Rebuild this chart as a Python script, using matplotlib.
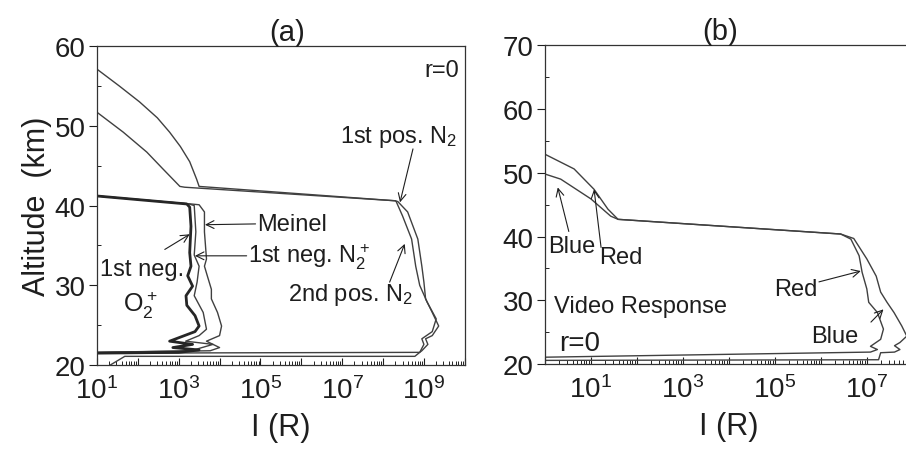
import numpy as np
import matplotlib
matplotlib.use('Agg')
import matplotlib.pyplot as plt

plt.rcParams['font.family'] = ['Liberation Sans', 'DejaVu Sans']
plt.rcParams['mathtext.fontset'] = 'custom'
plt.rcParams['mathtext.rm'] = 'Liberation Sans'
plt.rcParams['mathtext.default'] = 'regular'

# ---- panel (a): emission intensities (R) vs altitude (km), r=0 ----
pos1Alt = [57.1, 55.0, 53.0, 51.0, 49.2, 47.4, 45.5, 43.3, 42.4, 40.6, 40.5, 39.2, 35.8, 32.4, 30.4, 28.3, 26.6, 24.9, 23.7, 23.3, 22.6, 21.8, 21.6, 21.5]
pos1I = [10, 35, 110, 300, 600, 1100, 1860, 2750, 3160, 2.0e8, 2.3e8, 4.0e8, 7.1e8, 8.9e8, 1.0e9, 1.1e9, 1.6e9, 2.3e9, 1.6e9, 1.1e9, 1.25e9, 8.9e8, 7.9e8, 10]

pos2Alt = [51.7, 49.2, 46.7, 44.6, 42.4, 42.3, 40.6, 40.5, 38.7, 35.8, 32.4, 30.0, 27.9, 25.8, 24.2, 23.3, 22.6, 21.6, 21.1, 21.1, 20.0]
pos2I = [10, 44, 166, 410, 1070, 1400, 2.0e8, 2.1e8, 3.0e8, 5.0e8, 6.3e8, 7.9e8, 1.2e9, 2.0e9, 1.6e9, 8.9e8, 1.0e9, 7.9e8, 6.0e8, 48, 21]

o2Alt = [41.2, 40.2, 39.8, 37.4, 34.1, 32.4, 31.2, 29.9, 28.7, 27.5, 26.2, 24.9, 24.2, 23.0, 22.6, 22.2, 21.9, 21.6, 21.5]
o2I = [10, 1580, 1860, 2000, 1860, 2000, 1660, 2190, 1510, 1580, 2510, 3160, 2510, 600, 2190, 720, 3160, 1000, 10]

n2pAlt = [41.2, 40.2, 40.0, 36.7, 33.8, 32.4, 30.4, 28.7, 26.6, 24.5, 23.7, 23.0, 22.6, 21.8, 21.6]
n2pI = [10, 1780, 2400, 2630, 2400, 3160, 2820, 2400, 3980, 4790, 3160, 1480, 6920, 2000, 10]

meinelAlt = [41.2, 40.2, 40.1, 39.2, 36.7, 33.3, 32.4, 31.2, 29.5, 28.3, 26.6, 24.9, 23.7, 23.0, 22.2, 21.8, 21.6]
meinelI = [10, 2000, 3160, 4270, 4270, 4790, 4270, 5010, 6310, 6310, 8910, 11200, 10000, 4790, 10000, 5890, 10]

# ---- panel (b): video response, r=0 ----
redAlt = [52.9, 50.6, 47.4, 44.3, 42.7, 40.4, 39.6, 37.0, 34.4, 31.8, 29.7, 28.1, 25.5, 23.9, 22.8, 22.3, 21.9, 21.1]
redI = [1.0, 4.3, 11.7, 23.4, 38.9, 2.7e6, 4.5e6, 6.8e6, 7.9e6, 1.0e7, 1.1e7, 1.7e7, 2.3e7, 2.0e7, 1.2e7, 1.7e7, 1.2e7, 1.0]

blueAlt = [49.8, 49.0, 45.9, 43.2, 42.7, 40.4, 39.7, 36.5, 33.8, 31.3, 29.7, 28.1, 26.0, 24.4, 23.4, 22.9, 22.3, 21.9, 21.8, 20.7, 20.6]
blueI = [1.0, 2.2, 10.0, 26.9, 38.9, 2.7e6, 5.2e6, 1.0e7, 1.6e7, 2.0e7, 2.75e7, 3.9e7, 5.75e7, 7.4e7, 5.25e7, 4.0e7, 5.25e7, 4.0e7, 2.0e7, 1.8e7, 1.0]

ticksA = [10.0**k for k in range(1, 11)]
tickLabelsA = ['10$^{1}$', '', '10$^{3}$', '', '10$^{5}$', '', '10$^{7}$', '', '10$^{9}$', '']
ticksB = [10.0**k for k in range(0, 9)]
tickLabelsB = ['', '10$^{1}$', '', '10$^{3}$', '', '10$^{5}$', '', '10$^{7}$', '']

lineCol = '#404040'
textCol = '#1e1e1e'
annSize = 17


def styleAxes(ax, xlim, ylim, ticks, tickLabels, yticks):
    ax.set_xscale('log')
    ax.set_xlim(*xlim)
    ax.set_ylim(*ylim)
    ax.set_xticks(ticks)
    ax.set_xticklabels(tickLabels)
    ax.set_yticks(yticks)
    ax.set_yticks(np.arange(ylim[0] + 5, ylim[1], 10), minor=True)
    ax.xaxis.set_minor_locator(matplotlib.ticker.LogLocator(base=10, subs=np.arange(2, 10), numticks=30))
    ax.xaxis.set_minor_formatter(matplotlib.ticker.NullFormatter())
    ax.tick_params(axis='x', which='major', direction='in', length=5, width=0.8, pad=8, labelsize=20, colors=textCol)
    ax.tick_params(axis='x', which='minor', direction='in', length=3, width=0.6)
    ax.tick_params(axis='y', which='major', direction='out', length=6, width=0.8, pad=2, labelsize=20, colors=textCol)
    ax.tick_params(axis='y', which='minor', direction='in', length=3, width=0.6)
    for s in ax.spines.values():
        s.set_linewidth(0.9)
        s.set_color('#333333')
    ax.set_xlabel('I (R)', fontsize=22, color=textCol, labelpad=6)


def arrow(ax, tail, head):
    ax.annotate('', xy=head, xytext=tail,
                arrowprops=dict(arrowstyle='->', lw=0.8, color=textCol, shrinkA=0, shrinkB=0,
                                mutation_scale=14))


fig = plt.figure(figsize=(9.06, 4.52), dpi=100)
axA = fig.add_axes([0.107, 0.190, 0.406, 0.706])
axB = fig.add_axes([0.6015, 0.192, 0.406, 0.706])

# panel (a)
axA.plot(pos1I, pos1Alt, color=lineCol, lw=1.0)
axA.plot(pos2I, pos2Alt, color=lineCol, lw=1.0)
axA.plot(meinelI, meinelAlt, color=lineCol, lw=1.0)
axA.plot(n2pI, n2pAlt, color=lineCol, lw=1.0)
axA.plot(o2I, o2Alt, color='#262626', lw=2.0)
styleAxes(axA, (10, 1e10), (20, 60), ticksA, tickLabelsA, [20, 30, 40, 50, 60])
axA.set_ylabel('Altitude  (km)', fontsize=22, color=textCol, labelpad=2)
axA.set_title('(a)', fontsize=21, color=textCol, pad=3, x=0.516)

axA.text(0.985, 0.925, 'r=0', transform=axA.transAxes, ha='right', va='center', fontsize=annSize, color=textCol)
axA.text(8.7e6, 48.7, '1st pos. N$_2$', ha='left', va='center', fontsize=annSize, color=textCol)
arrow(axA, (5.4e8, 47.1), (2.6e8, 40.4))
axA.text(8.1e4, 37.7, 'Meinel', ha='left', va='center', fontsize=annSize, color=textCol)
arrow(axA, (7.6e4, 37.7), (4.4e3, 37.6))
axA.text(4.9e4, 33.7, '1st neg. N$_2^+$', ha='left', va='center', fontsize=annSize, color=textCol)
arrow(axA, (4.6e4, 33.7), (2.5e3, 33.7))
axA.text(11.7, 32.0, '1st neg.', ha='left', va='center', fontsize=annSize, color=textCol)
axA.text(112, 27.6, 'O$_2^+$', ha='center', va='center', fontsize=annSize + 1, color=textCol)
arrow(axA, (457, 34.5), (1.86e3, 36.4))
axA.text(4.7e5, 28.9, '2nd pos. N$_2$', ha='left', va='center', fontsize=annSize, color=textCol)
arrow(axA, (1.45e8, 30.4), (3.4e8, 35.2))

# panel (b)
axB.plot(redI, redAlt, color=lineCol, lw=1.0)
axB.plot(blueI, blueAlt, color=lineCol, lw=1.0)
styleAxes(axB, (1, 1e8), (20, 70), ticksB, tickLabelsB, [20, 30, 40, 50, 60, 70])
axB.set_title('(b)', fontsize=21, color=textCol, pad=3, x=0.475)

axB.text(1.17, 38.5, 'Blue', ha='left', va='center', fontsize=annSize, color=textCol)
arrow(axB, (3.3, 40.8), (1.9, 47.7))
axB.text(14.8, 36.8, 'Red', ha='left', va='center', fontsize=annSize, color=textCol)
arrow(axB, (16.6, 38.3), (11.7, 47.4))
axB.text(9.5e4, 31.8, 'Red', ha='left', va='center', fontsize=annSize, color=textCol)
arrow(axB, (9.1e5, 32.9), (7.4e6, 34.6))
axB.text(1.6, 29.1, 'Video Response', ha='left', va='center', fontsize=annSize, color=textCol)
axB.text(2.0, 23.4, 'r=0', ha='left', va='center', fontsize=20, color=textCol)
axB.text(6.0e5, 24.4, 'Blue', ha='left', va='center', fontsize=annSize, color=textCol)
arrow(axB, (1.23e7, 26.6), (2.3e7, 28.6))

fig.savefig('out.png', dpi=100)
